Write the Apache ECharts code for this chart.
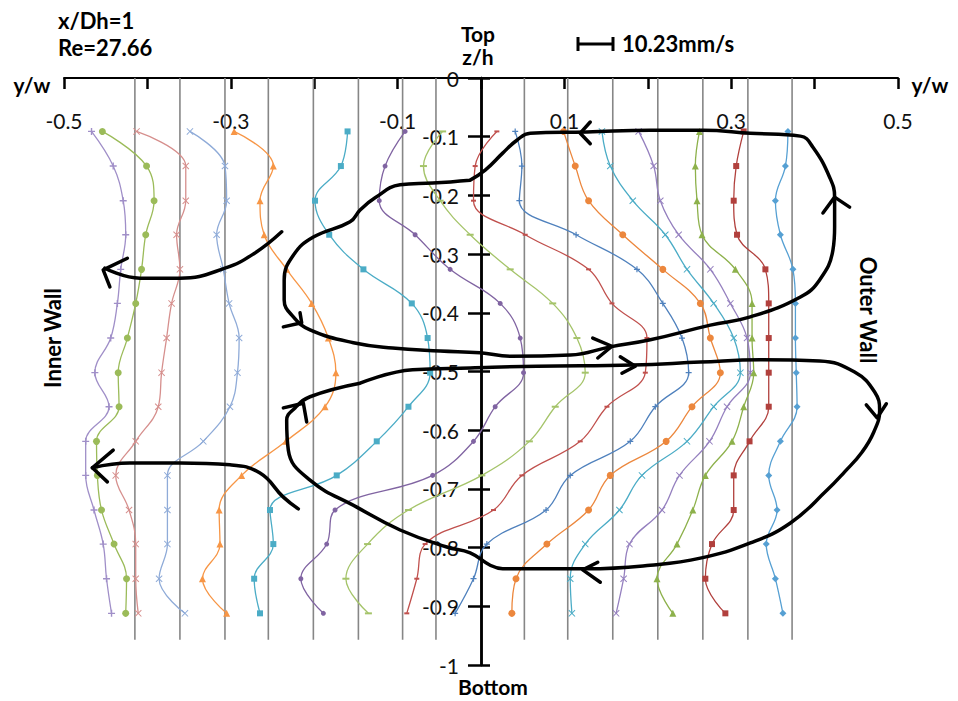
<!DOCTYPE html>
<html>
<head>
<meta charset="utf-8">
<script src="https://cdn.jsdelivr.net/npm/echarts@6/dist/echarts.min.js"></script>
<style>
  html, body { margin: 0; padding: 0; background: #fff; }
  #chart { width: 958px; height: 701px; }
</style>
</head>
<body>
<div id="chart"></div>
<script>
// depth of the measuring points, z/h
const zLevels = [-0.091, -0.150, -0.209, -0.267, -0.326, -0.384, -0.443, -0.502, -0.560, -0.619, -0.677, -0.736, -0.794, -0.853, -0.912];

// grey lines at the measuring stations, y/w
const stations = [-0.415, -0.361, -0.307, -0.255, -0.201, -0.147, -0.094, -0.054, 0.052, 0.104, 0.158, 0.212, 0.266, 0.320, 0.373];
const stationSpan = [0, -0.957];

// velocity profiles, plotted y/w position at each z level (inner wall -> outer wall)
const p1  = [-0.467, -0.441, -0.429, -0.426, -0.432, -0.436, -0.444, -0.463, -0.446, -0.474, -0.474, -0.464, -0.453, -0.449, -0.443];
const p2  = [-0.454, -0.401, -0.392, -0.402, -0.407, -0.414, -0.424, -0.435, -0.434, -0.461, -0.460, -0.455, -0.440, -0.425, -0.426];
const p3  = [-0.413, -0.354, -0.354, -0.365, -0.361, -0.371, -0.377, -0.383, -0.387, -0.414, -0.438, -0.422, -0.414, -0.414, -0.411];
const p4  = [-0.349, -0.307, -0.305, -0.317, -0.309, -0.302, -0.290, -0.292, -0.301, -0.333, -0.376, -0.376, -0.376, -0.386, -0.355];
const p5  = [-0.296, -0.249, -0.265, -0.260, -0.233, -0.203, -0.183, -0.174, -0.187, -0.234, -0.287, -0.314, -0.313, -0.334, -0.305];
const p6  = [-0.160, -0.168, -0.199, -0.182, -0.141, -0.083, -0.064, -0.061, -0.087, -0.125, -0.173, -0.253, -0.249, -0.272, -0.265];
const p7  = [-0.091, -0.115, -0.122, -0.079, -0.037, 0.023, 0.047, 0.051, 0.017, -0.009, -0.058, -0.175, -0.185, -0.216, -0.189];
const p8  = [-0.046, -0.069, -0.049, -0.013, 0.035, 0.086, 0.115, 0.125, 0.089, 0.058, 0.001, -0.087, -0.136, -0.162, -0.135];
const p9  = [0.019, -0.007, -0.009, 0.053, 0.129, 0.157, 0.199, 0.197, 0.151, 0.119, 0.049, 0.015, -0.067, -0.077, -0.089];
const p10 = [0.041, 0.049, 0.046, 0.114, 0.187, 0.218, 0.241, 0.249, 0.209, 0.179, 0.107, 0.078, 0.007, -0.009, -0.031];
const p11 = [0.099, 0.113, 0.129, 0.170, 0.218, 0.263, 0.275, 0.287, 0.253, 0.222, 0.155, 0.129, 0.079, 0.042, 0.037];
const p12 = [0.145, 0.155, 0.182, 0.221, 0.247, 0.279, 0.303, 0.311, 0.279, 0.247, 0.193, 0.166, 0.125, 0.107, 0.109];
const p13 = [0.189, 0.207, 0.215, 0.237, 0.275, 0.299, 0.319, 0.323, 0.295, 0.274, 0.238, 0.217, 0.178, 0.171, 0.162];
const p14 = [0.262, 0.257, 0.259, 0.265, 0.305, 0.325, 0.325, 0.327, 0.315, 0.301, 0.269, 0.254, 0.235, 0.211, 0.230];
const p15 = [0.315, 0.306, 0.303, 0.307, 0.341, 0.345, 0.345, 0.345, 0.345, 0.322, 0.303, 0.303, 0.277, 0.269, 0.293];
const p16 = [0.368, 0.365, 0.353, 0.359, 0.374, 0.377, 0.377, 0.378, 0.379, 0.359, 0.345, 0.355, 0.342, 0.353, 0.362];
const profiles = [p1, p2, p3, p4, p5, p6, p7, p8, p9, p10, p11, p12, p13, p14, p15, p16];

// hand drawn secondary flow sketch, [y/w, z/h]
const upperVortex = [[-0.013,-0.174],[-0.058,-0.179],[-0.097,-0.182],[-0.127,-0.204],[-0.145,-0.225],[-0.157,-0.245],[-0.201,-0.271],[-0.225,-0.302],[-0.236,-0.344],[-0.236,-0.378],[-0.225,-0.407],[-0.205,-0.429],[-0.153,-0.451],[-0.106,-0.460],[-0.049,-0.465],[-0.001,-0.468],[0.035,-0.474],[0.107,-0.472],[0.155,-0.458],[0.203,-0.446],[0.275,-0.421],[0.323,-0.407],[0.383,-0.373],[0.406,-0.344],[0.422,-0.293],[0.424,-0.254],[0.424,-0.203],[0.418,-0.169],[0.398,-0.118],[0.383,-0.099],[0.323,-0.094],[0.266,-0.089],[0.203,-0.089],[0.127,-0.092],[0.059,-0.094],[0.043,-0.106],[0.026,-0.128],[0.005,-0.157],[-0.013,-0.174]];
const lowerVortex = [[-0.145,-0.520],[-0.082,-0.497],[-0.013,-0.494],[0.067,-0.491],[0.182,-0.489],[0.263,-0.484],[0.335,-0.480],[0.406,-0.482],[0.448,-0.501],[0.472,-0.535],[0.478,-0.566],[0.471,-0.603],[0.457,-0.637],[0.436,-0.671],[0.415,-0.702],[0.371,-0.758],[0.323,-0.792],[0.263,-0.818],[0.203,-0.830],[0.127,-0.836],[0.026,-0.836],[0.011,-0.830],[-0.013,-0.809],[-0.041,-0.799],[-0.097,-0.770],[-0.149,-0.731],[-0.205,-0.685],[-0.231,-0.634],[-0.233,-0.583],[-0.223,-0.562],[-0.205,-0.543],[-0.145,-0.520]];
const upperWallFlow = [[-0.239,-0.262],[-0.271,-0.298],[-0.307,-0.324],[-0.361,-0.341],[-0.409,-0.341],[-0.451,-0.324]];
const lowerWallFlow = [[-0.219,-0.734],[-0.237,-0.714],[-0.265,-0.673],[-0.301,-0.659],[-0.361,-0.656],[-0.421,-0.656],[-0.466,-0.664]];
// arrow heads: arm, tip, arm
const arrowHeads = [
  [[-0.424,-0.307],[-0.453,-0.327],[-0.445,-0.356]],
  [[-0.441,-0.634],[-0.466,-0.664],[-0.448,-0.688]],
  [[-0.237,-0.424],[-0.215,-0.417],[-0.217,-0.400]],
  [[0.134,-0.443],[0.157,-0.457],[0.140,-0.477]],
  [[0.410,-0.230],[0.424,-0.203],[0.442,-0.220]],
  [[0.131,-0.075],[0.119,-0.094],[0.131,-0.112]],
  [[-0.237,-0.562],[-0.213,-0.554],[-0.209,-0.586]],
  [[0.167,-0.475],[0.185,-0.491],[0.169,-0.503]],
  [[0.462,-0.557],[0.475,-0.579],[0.486,-0.555]],
  [[0.140,-0.825],[0.122,-0.838],[0.143,-0.859]]
];

const PLUS = 'path://M4,0H6V4H10V6H6V10H4V6H0V4H4Z';
const CROSS = 'path://M1,0L5,4L9,0L10,1L6,5L10,9L9,10L5,6L1,10L0,9L4,5L0,1Z';
const profileStyle = [
  { color: '#a08fc8', symbol: PLUS, size: 7 },
  { color: '#9bbb59', symbol: 'circle', size: 7 },
  { color: '#d68f8d', symbol: CROSS, size: 7 },
  { color: '#8fabd8', symbol: CROSS, size: 7 },
  { color: '#f79646', symbol: 'triangle', size: 7 },
  { color: '#4bacc6', symbol: 'rect', size: 6 },
  { color: '#8064a2', symbol: 'circle', size: 5 },
  { color: '#a5c46a', symbol: 'rect', size: [7, 2] },
  { color: '#c0504d', symbol: 'rect', size: [5, 2] },
  { color: '#4f81bd', symbol: PLUS, size: 6 },
  { color: '#ec873d', symbol: 'circle', size: 7 },
  { color: '#4bacc6', symbol: CROSS, size: 7 },
  { color: '#9580bf', symbol: CROSS, size: 7 },
  { color: '#8db14b', symbol: 'triangle', size: 7 },
  { color: '#b1403d', symbol: 'rect', size: 6 },
  { color: '#56a0d3', symbol: 'diamond', size: 7 }
];

const FONT = 'Lato, "Open Sans", sans-serif';
const chart = echarts.init(document.getElementById('chart'), null, { renderer: 'svg' });

const series = [];
stations.forEach(x => {
  series.push({
    type: 'line', data: [[x, stationSpan[0]], [x, stationSpan[1]]],
    symbol: 'none', silent: true, z: 1,
    lineStyle: { color: '#868686', width: 1.6 }
  });
});
profiles.forEach((p, i) => {
  const st = profileStyle[i];
  series.push({
    type: 'line', z: 3,
    data: zLevels.map((z, k) => [p[k], z]),
    smooth: 0.4,
    symbol: st.symbol, symbolSize: st.size, showSymbol: true,
    itemStyle: { color: st.color },
    lineStyle: { color: st.color, width: 1.3 }
  });
});
[upperVortex, lowerVortex, upperWallFlow, lowerWallFlow].forEach(c => {
  series.push({
    type: 'line', data: c, smooth: 0.45, symbol: 'none', z: 5,
    lineStyle: { color: '#000', width: 3.5, cap: 'round', join: 'round' }
  });
});
arrowHeads.forEach(a => {
  series.push({
    type: 'line', data: a, symbol: 'none', z: 5,
    lineStyle: { color: '#000', width: 3.5, cap: 'round', join: 'round' }
  });
});

const boldTxt = (text, x, y, size, extra) => Object.assign({
  type: 'text', x: x, y: y, z: 20,
  style: { text: text, font: 'bold ' + size + 'px ' + FONT, fill: '#000', textAlign: 'center', textVerticalAlign: 'middle' }
}, extra || {});

const gridW = 834;
// the z/h axis sits at y/w = 0, i.e. half way across the plot
const yAxisShift = -gridW / 2;

chart.setOption({
  animation: false,
  grid: { left: 64, width: gridW, top: 78, bottom: 36, containLabel: false, outerBoundsMode: 'none' },
  xAxis: {
    type: 'value', position: 'top', min: -0.5, max: 0.5, interval: 0.1,
    axisLine: { onZero: false, lineStyle: { color: '#000', width: 2 } },
    axisTick: { inside: true, length: 11, lineStyle: { color: '#000', width: 2.5 } },
    axisLabel: {
      inside: true, margin: 32, color: '#111', fontSize: 21, fontFamily: FONT,
      formatter: v => (Math.round(v * 10) % 2 !== 0 ? v.toFixed(1) : '')
    },
    splitLine: { show: false }
  },
  yAxis: [{
    type: 'value', position: 'left', offset: yAxisShift, min: -1, max: 0, interval: 0.1,
    axisLine: { onZero: false, lineStyle: { color: '#000', width: 2.5 } },
    axisTick: { length: 13, lineStyle: { color: '#000', width: 2.5 } },
    axisLabel: {
      margin: 22, color: '#111', fontSize: 21, fontFamily: FONT,
      formatter: v => (v === 0 ? '0' : v === -1 ? '-1' : v.toFixed(1))
    },
    splitLine: { show: false }
  }, {
    type: 'value', position: 'left', offset: yAxisShift, min: -1, max: 0, interval: 0.1,
    axisLine: { onZero: false, lineStyle: { color: '#000', width: 2.5 } },
    axisTick: { inside: true, length: 9, lineStyle: { color: '#000', width: 2.5 } },
    axisLabel: { show: false },
    splitLine: { show: false }
  }],
  series: series,
  graphic: [
    { type: 'text', x: 58, y: 9, style: { text: 'x/Dh=1', font: 'bold 22px ' + FONT, fill: '#000' } },
    { type: 'text', x: 58, y: 36, style: { text: 'Re=27.66', font: 'bold 22px ' + FONT, fill: '#000' } },
    boldTxt('y/w', 32, 84, 21),
    boldTxt('y/w', 930, 84, 21),
    boldTxt('Top', 478, 33, 21),
    boldTxt('z/h', 478, 56, 21),
    boldTxt('Bottom', 493, 686, 21),
    { type: 'text', x: 622, y: 43, style: { text: '10.23mm/s', font: 'bold 22px ' + FONT, fill: '#000', textVerticalAlign: 'middle' } },
    { type: 'line', shape: { x1: 578, y1: 44, x2: 613, y2: 44 }, style: { stroke: '#000', lineWidth: 3 } },
    { type: 'line', shape: { x1: 578, y1: 37, x2: 578, y2: 51 }, style: { stroke: '#000', lineWidth: 3 } },
    { type: 'line', shape: { x1: 613, y1: 37, x2: 613, y2: 51 }, style: { stroke: '#000', lineWidth: 3 } },
    boldTxt('Inner Wall', 52, 338, 22, { rotation: Math.PI / 2 }),
    boldTxt('Outer Wall', 868, 310, 22, { rotation: -Math.PI / 2 })
  ]
});
</script>
</body>
</html>
